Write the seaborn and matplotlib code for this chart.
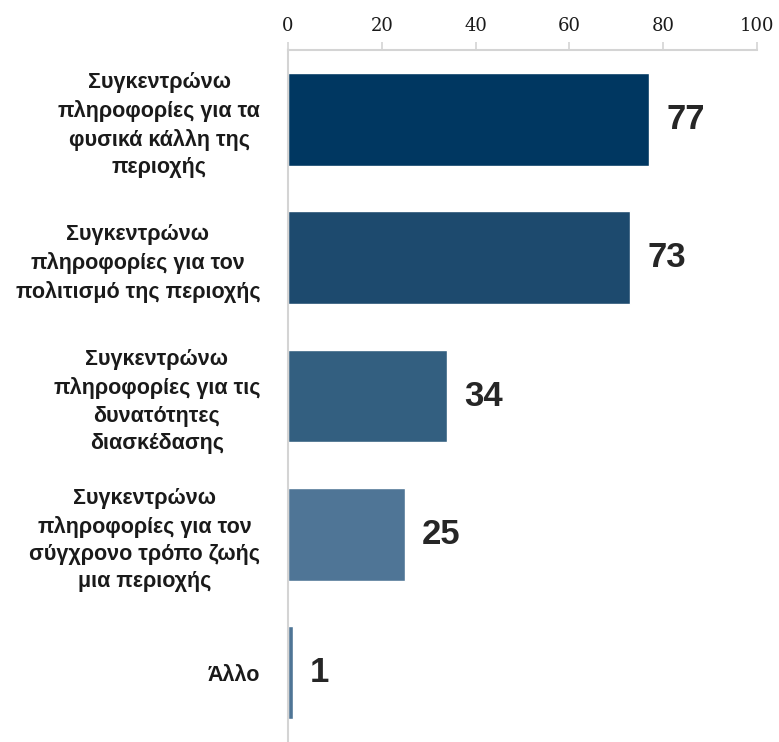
import numpy as np
import pandas as pd
import matplotlib
matplotlib.use("Agg")
import matplotlib.pyplot as plt
import seaborn as sns

# datos
categorias = [
    "Συγκεντρώνω\nπληροφορίες για τα\nφυσικά κάλλη της\nπεριοχής",
    "Συγκεντρώνω\nπληροφορίες για τον\nπολιτισμό της περιοχής",
    "Συγκεντρώνω\nπληροφορίες για τις\nδυνατότητες\nδιασκέδασης",
    "Συγκεντρώνω\nπληροφορίες για τον\nσύγχρονο τρόπο ζωής\nμια περιοχής",
    "Άλλο",
]
valores = [77, 73, 34, 25, 1]
colores = ["#003761", "#1d4a6e", "#335f80", "#4f7596", "#4f7596"]
ticks_x = [0, 20, 40, 60, 80, 100]

df = pd.DataFrame({"cat": categorias, "val": valores})

sns.set_style("white")
plt.rcParams["font.family"] = ["Liberation Sans", "DejaVu Sans"]

fig = plt.figure(figsize=(7.79, 7.42), dpi=100)
ax = fig.add_axes([0.3697, 0.0, 0.6021, 0.9326])

sns.barplot(data=df, x="val", y="cat", hue="cat", palette=colores,
            legend=False, width=0.67, orient="h", ax=ax, saturation=1)

ax.set_xlim(0, 100)
ax.set_ylim(4.5, -0.5)
ax.xaxis.tick_top()
ax.set_xticks(ticks_x)
ax.set_xticklabels([str(t) for t in ticks_x], family="DejaVu Serif",
                   fontsize=13, color="#1a1a1a")
ax.tick_params(axis="x", direction="out", length=6, width=1.2,
               color="#d4d4d4", pad=5)
ax.set_xlabel("")
ax.set_ylabel("")

# etiquetas de categorias
ax.set_yticks(range(len(categorias)))
ax.set_yticklabels(categorias, fontsize=15.5, fontweight="bold",
                   color="#1a1a1a", linespacing=1.4,
                   multialignment="center")
ax.tick_params(axis="y", which="major", length=0, pad=20)
ax.set_yticks(np.arange(-0.5, len(categorias), 1), minor=True)
ax.tick_params(axis="y", which="minor", direction="out", length=7,
               width=1.2, color="#d4d4d4")

for s in ["right", "bottom"]:
    ax.spines[s].set_visible(False)
for s in ["top", "left"]:
    ax.spines[s].set_color("#d4d4d4")
    ax.spines[s].set_linewidth(1.5)

# valores
for i, v in enumerate(valores):
    ax.text(v + 3.6, i, str(v), va="center", ha="left", fontsize=25,
            fontweight="bold", color="#262626",
            family=["Liberation Sans Narrow", "Liberation Sans", "DejaVu Sans"])

plt.savefig("out.png", dpi=100)
